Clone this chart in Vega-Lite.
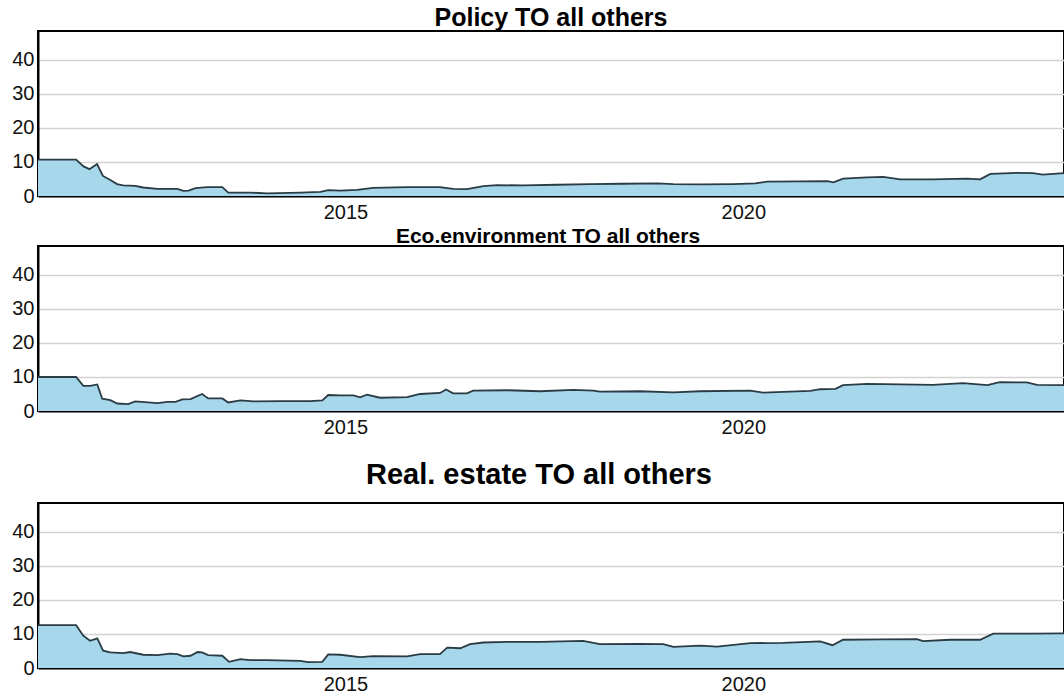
{
  "$schema": "https://vega.github.io/schema/vega-lite/v6.json",
  "padding": {"left": 10, "top": 5, "right": 0, "bottom": 0},
  "background": "white",
  "datasets": {
    "policy": [
      {"date": "2011-02-20", "value": 10.7},
      {"date": "2011-08-14", "value": 10.7},
      {"date": "2011-09-17", "value": 8.7},
      {"date": "2011-10-14", "value": 7.9},
      {"date": "2011-11-18", "value": 9.4},
      {"date": "2011-12-15", "value": 5.9},
      {"date": "2012-01-18", "value": 4.7},
      {"date": "2012-02-18", "value": 3.5},
      {"date": "2012-03-17", "value": 3.1},
      {"date": "2012-05-11", "value": 3.0},
      {"date": "2012-06-17", "value": 2.5},
      {"date": "2012-08-21", "value": 2.1},
      {"date": "2012-11-21", "value": 2.1},
      {"date": "2012-12-18", "value": 1.5},
      {"date": "2013-01-11", "value": 1.6},
      {"date": "2013-02-12", "value": 2.3},
      {"date": "2013-04-07", "value": 2.6},
      {"date": "2013-06-15", "value": 2.6},
      {"date": "2013-07-12", "value": 1.0},
      {"date": "2013-10-21", "value": 1.0},
      {"date": "2014-01-08", "value": 0.8},
      {"date": "2014-06-07", "value": 1.0},
      {"date": "2014-09-08", "value": 1.2},
      {"date": "2014-10-14", "value": 1.7},
      {"date": "2014-12-08", "value": 1.6},
      {"date": "2015-02-24", "value": 1.8},
      {"date": "2015-05-08", "value": 2.4},
      {"date": "2015-10-11", "value": 2.6},
      {"date": "2016-01-12", "value": 2.6},
      {"date": "2016-03-10", "value": 2.6},
      {"date": "2016-05-09", "value": 2.1},
      {"date": "2016-07-12", "value": 2.0},
      {"date": "2016-09-25", "value": 2.9},
      {"date": "2016-11-28", "value": 3.2},
      {"date": "2017-03-26", "value": 3.1},
      {"date": "2017-08-30", "value": 3.3},
      {"date": "2018-01-29", "value": 3.5},
      {"date": "2018-06-28", "value": 3.6},
      {"date": "2018-12-02", "value": 3.7},
      {"date": "2019-02-14", "value": 3.5},
      {"date": "2019-06-16", "value": 3.4},
      {"date": "2019-11-16", "value": 3.5},
      {"date": "2020-02-25", "value": 3.7},
      {"date": "2020-04-19", "value": 4.2},
      {"date": "2020-09-18", "value": 4.3},
      {"date": "2021-01-21", "value": 4.4},
      {"date": "2021-02-18", "value": 4.0},
      {"date": "2021-04-03", "value": 5.1},
      {"date": "2021-07-22", "value": 5.5},
      {"date": "2021-10-04", "value": 5.6},
      {"date": "2021-12-21", "value": 4.9},
      {"date": "2022-05-20", "value": 4.9},
      {"date": "2022-10-24", "value": 5.1},
      {"date": "2022-12-23", "value": 4.9},
      {"date": "2023-02-08", "value": 6.5},
      {"date": "2023-06-10", "value": 6.8},
      {"date": "2023-08-22", "value": 6.7},
      {"date": "2023-10-07", "value": 6.3},
      {"date": "2024-01-12", "value": 6.7}
    ],
    "eco": [
      {"date": "2011-02-20", "value": 10.0},
      {"date": "2011-08-14", "value": 10.0},
      {"date": "2011-09-16", "value": 7.4},
      {"date": "2011-10-17", "value": 7.4},
      {"date": "2011-11-19", "value": 7.8},
      {"date": "2011-12-12", "value": 3.6},
      {"date": "2012-01-18", "value": 3.2},
      {"date": "2012-02-19", "value": 2.2},
      {"date": "2012-04-09", "value": 2.0},
      {"date": "2012-05-11", "value": 2.8},
      {"date": "2012-08-21", "value": 2.3},
      {"date": "2012-10-06", "value": 2.7},
      {"date": "2012-11-12", "value": 2.7},
      {"date": "2012-12-14", "value": 3.4},
      {"date": "2013-01-20", "value": 3.5},
      {"date": "2013-03-14", "value": 5.0},
      {"date": "2013-04-11", "value": 3.7},
      {"date": "2013-06-15", "value": 3.7},
      {"date": "2013-07-12", "value": 2.5},
      {"date": "2013-09-06", "value": 3.1},
      {"date": "2013-11-05", "value": 2.8},
      {"date": "2014-03-20", "value": 2.9},
      {"date": "2014-07-22", "value": 2.9},
      {"date": "2014-09-17", "value": 3.1},
      {"date": "2014-10-14", "value": 4.7},
      {"date": "2014-12-08", "value": 4.6},
      {"date": "2015-02-07", "value": 4.6},
      {"date": "2015-03-09", "value": 4.0},
      {"date": "2015-04-10", "value": 4.8},
      {"date": "2015-06-09", "value": 3.9},
      {"date": "2015-10-11", "value": 4.1},
      {"date": "2015-12-10", "value": 5.0},
      {"date": "2016-03-10", "value": 5.3},
      {"date": "2016-04-07", "value": 6.3},
      {"date": "2016-05-09", "value": 5.2},
      {"date": "2016-07-12", "value": 5.2},
      {"date": "2016-08-09", "value": 6.0},
      {"date": "2017-01-13", "value": 6.1},
      {"date": "2017-06-13", "value": 5.8},
      {"date": "2017-11-12", "value": 6.2},
      {"date": "2018-02-12", "value": 6.0},
      {"date": "2018-03-14", "value": 5.7},
      {"date": "2018-09-15", "value": 5.8},
      {"date": "2019-02-14", "value": 5.5},
      {"date": "2019-06-16", "value": 5.8},
      {"date": "2020-02-02", "value": 6.0},
      {"date": "2020-04-01", "value": 5.4},
      {"date": "2020-11-04", "value": 5.9},
      {"date": "2020-12-19", "value": 6.4},
      {"date": "2021-02-27", "value": 6.5},
      {"date": "2021-04-03", "value": 7.6},
      {"date": "2021-07-22", "value": 8.0},
      {"date": "2021-12-21", "value": 7.8},
      {"date": "2022-05-20", "value": 7.7},
      {"date": "2022-10-06", "value": 8.2},
      {"date": "2023-01-25", "value": 7.6},
      {"date": "2023-03-23", "value": 8.5},
      {"date": "2023-07-25", "value": 8.4},
      {"date": "2023-09-10", "value": 7.7},
      {"date": "2024-01-12", "value": 7.6}
    ],
    "realestate": [
      {"date": "2011-02-20", "value": 12.6},
      {"date": "2011-08-14", "value": 12.6},
      {"date": "2011-09-16", "value": 9.5},
      {"date": "2011-10-17", "value": 8.0},
      {"date": "2011-11-19", "value": 8.7},
      {"date": "2011-12-16", "value": 5.1},
      {"date": "2012-01-18", "value": 4.6},
      {"date": "2012-03-17", "value": 4.4},
      {"date": "2012-04-18", "value": 4.7},
      {"date": "2012-06-17", "value": 3.9},
      {"date": "2012-08-21", "value": 3.8},
      {"date": "2012-10-19", "value": 4.2},
      {"date": "2012-11-21", "value": 4.1},
      {"date": "2012-12-18", "value": 3.4},
      {"date": "2013-01-20", "value": 3.6},
      {"date": "2013-02-21", "value": 4.7},
      {"date": "2013-03-14", "value": 4.6},
      {"date": "2013-04-11", "value": 3.8},
      {"date": "2013-06-15", "value": 3.6},
      {"date": "2013-07-16", "value": 1.8},
      {"date": "2013-09-06", "value": 2.6},
      {"date": "2013-10-21", "value": 2.3},
      {"date": "2014-01-08", "value": 2.3},
      {"date": "2014-06-07", "value": 2.1},
      {"date": "2014-07-13", "value": 1.7},
      {"date": "2014-09-17", "value": 1.8},
      {"date": "2014-10-14", "value": 4.0},
      {"date": "2014-12-08", "value": 3.9},
      {"date": "2015-03-09", "value": 3.2},
      {"date": "2015-05-08", "value": 3.5},
      {"date": "2015-10-11", "value": 3.4},
      {"date": "2015-12-10", "value": 4.1},
      {"date": "2016-03-10", "value": 4.1},
      {"date": "2016-04-12", "value": 6.0},
      {"date": "2016-06-11", "value": 5.8},
      {"date": "2016-07-26", "value": 7.0},
      {"date": "2016-09-25", "value": 7.5},
      {"date": "2017-01-13", "value": 7.7},
      {"date": "2017-06-13", "value": 7.7},
      {"date": "2017-12-27", "value": 8.0},
      {"date": "2018-03-14", "value": 7.0},
      {"date": "2018-09-15", "value": 7.1},
      {"date": "2018-12-30", "value": 7.0},
      {"date": "2019-02-14", "value": 6.2},
      {"date": "2019-06-16", "value": 6.6},
      {"date": "2019-09-03", "value": 6.3},
      {"date": "2020-02-02", "value": 7.3},
      {"date": "2020-07-02", "value": 7.4},
      {"date": "2020-12-19", "value": 7.8},
      {"date": "2021-02-13", "value": 6.7},
      {"date": "2021-04-03", "value": 8.3},
      {"date": "2021-10-04", "value": 8.4},
      {"date": "2022-03-08", "value": 8.5},
      {"date": "2022-04-05", "value": 7.9},
      {"date": "2022-08-07", "value": 8.3},
      {"date": "2022-12-23", "value": 8.3},
      {"date": "2023-02-21", "value": 10.1},
      {"date": "2023-08-22", "value": 10.1},
      {"date": "2024-01-12", "value": 10.2}
    ]
  },
  "vconcat": [
    {
      "spacing": 2,
      "vconcat": [
        {
          "width": 1026, "height": 165,
          "title": {"text": "Policy TO all others", "fontSize": 25, "offset": -25, "baseline": "bottom", "frame": "group", "anchor": "middle"},
          "data": {"name": "policy"},
          "mark": {"type": "area", "fill": "#a6d7ea", "opacity": 1, "fillOpacity": 1, "line": {"color": "#2b3b44", "strokeWidth": 1.8}},
          "encoding": {
            "x": {"field": "date", "type": "temporal", "scale": {"domain": [{"year": 2011, "month": 2, "date": 20, "utc": true}, {"year": 2024, "month": 1, "date": 12, "utc": true}]}, "axis": {"values": [{"year": 2015, "utc": true}, {"year": 2020, "utc": true}], "format": "%Y"}},
            "y": {"field": "value", "type": "quantitative", "scale": {"domain": [0, 48.5], "nice": false}, "axis": {"values": [0, 10, 20, 30, 40]}}
          }
        },
        {
          "width": 1026, "height": 165,
          "title": {"text": "Eco.environment TO all others", "fontSize": 21, "offset": -22, "dx": -3, "baseline": "bottom", "frame": "group", "anchor": "middle"},
          "data": {"name": "eco"},
          "mark": {"type": "area", "fill": "#a6d7ea", "opacity": 1, "fillOpacity": 1, "line": {"color": "#2b3b44", "strokeWidth": 1.8}},
          "encoding": {
            "x": {"field": "date", "type": "temporal", "scale": {"domain": [{"year": 2011, "month": 2, "date": 20, "utc": true}, {"year": 2024, "month": 1, "date": 12, "utc": true}]}, "axis": {"values": [{"year": 2015, "utc": true}, {"year": 2020, "utc": true}], "format": "%Y"}},
            "y": {"field": "value", "type": "quantitative", "scale": {"domain": [0, 48.5], "nice": false}, "axis": {"values": [0, 10, 20, 30, 40]}}
          }
        }
      ]
    },
    {
      "width": 1026, "height": 165,
      "title": {"text": "Real. estate TO all others", "fontSize": 29, "offset": -16, "dx": -12, "baseline": "bottom", "frame": "group", "anchor": "middle"},
      "data": {"name": "realestate"},
      "mark": {"type": "area", "fill": "#a6d7ea", "opacity": 1, "fillOpacity": 1, "line": {"color": "#2b3b44", "strokeWidth": 1.8}},
      "encoding": {
        "x": {"field": "date", "type": "temporal", "scale": {"domain": [{"year": 2011, "month": 2, "date": 20, "utc": true}, {"year": 2024, "month": 1, "date": 12, "utc": true}]}, "axis": {"values": [{"year": 2015, "utc": true}, {"year": 2020, "utc": true}], "format": "%Y"}},
        "y": {"field": "value", "type": "quantitative", "scale": {"domain": [0, 48.5], "nice": false}, "axis": {"values": [0, 10, 20, 30, 40]}}
      }
    }
  ],
  "spacing": 22,
  "config": {
    "font": "Liberation Sans",
    "title": {"font": "Liberation Sans", "fontWeight": "bold", "color": "#000000"},
    "axis": {"labelFont": "Liberation Sans", "labelFontSize": 20, "labelColor": "#111111", "domainColor": "#000000", "domainWidth": 2, "ticks": false, "tickSize": 0, "title": null, "gridColor": "#d2d2d2", "gridWidth": 1.5},
    "axisX": {"grid": false, "labelPadding": 6},
    "axisY": {"labelPadding": 4},
    "view": {"stroke": "#000000", "strokeWidth": 2}
  }
}
